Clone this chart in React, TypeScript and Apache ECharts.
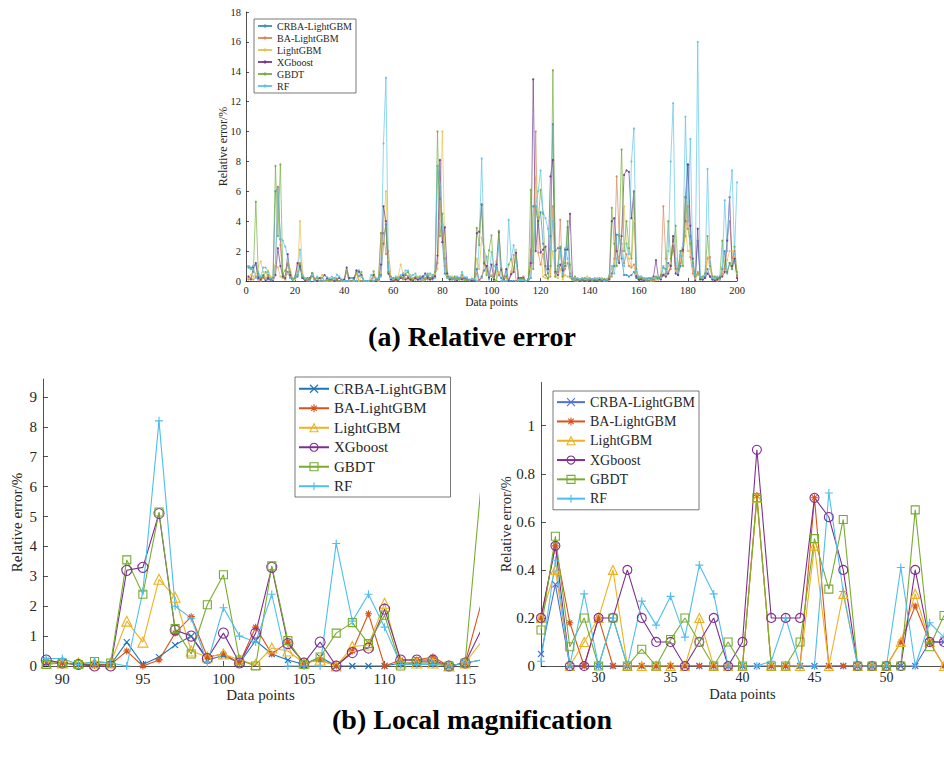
import React, { useEffect, useRef } from "react";
import * as echarts from "echarts";

const FONT = "'Liberation Serif', 'Times New Roman', Times, serif";
const AX = "#262626";

const NAMES = ["CRBA-LightGBM", "BA-LightGBM", "LightGBM", "XGboost", "GBDT", "RF"];
const TOP_COLORS = ["#3a8cbd", "#d9855a", "#e6c24a", "#71398a", "#72ad3c", "#5cc2ea"];
const LEFT_COLORS = ["#1f74b8", "#d95319", "#edb120", "#7e2f8e", "#77ac30", "#4dbeee"];
const RIGHT_COLORS = ["#4f6fd3", "#d95319", "#edb120", "#7e2f8e", "#77ac30", "#4dbeee"];

// tick labels
const xTicksTop = [0, 20, 40, 60, 80, 100, 120, 140, 160, 180, 200];
const yTicksTop = [0, 2, 4, 6, 8, 10, 12, 14, 16, 18];
const xTicksL = [90, 95, 100, 105, 110, 115];
const yTicksL = [0, 1, 2, 3, 4, 5, 6, 7, 8, 9];
const xTicksR = [30, 35, 40, 45, 50];
const yTicksR = [0, 0.2, 0.4, 0.6, 0.8, 1];

// ---------- (b) right panel: data points 26..54 ----------
const xRight = [26, 27, 28, 29, 30, 31, 32, 33, 34, 35, 36, 37, 38, 39, 40, 41, 42, 43, 44, 45, 46, 47, 48, 49, 50, 51, 52, 53, 54];
const crbaR = [0.05, 0.34, 0, 0, 0, 0, 0, 0, 0, 0, 0, 0, 0, 0, 0, 0, 0, 0, 0, 0, 0, 0, 0, 0, 0, 0, 0, 0.1, 0.1];
const baR = [0.2, 0.5, 0.18, 0, 0.2, 0, 0, 0, 0, 0, 0, 0, 0, 0, 0, 0.71, 0, 0, 0, 0.7, 0, 0, 0, 0, 0, 0.1, 0.25, 0.1, 0];
const lgbR = [0.2, 0.4, 0, 0.1, 0.2, 0.4, 0, 0, 0, 0, 0, 0.2, 0, 0, 0, 0.7, 0, 0, 0, 0.5, 0, 0.3, 0, 0, 0, 0.1, 0.3, 0.1, 0];
const xgbR = [0.2, 0.5, 0, 0, 0.2, 0.2, 0.4, 0.2, 0.1, 0.1, 0, 0.1, 0.2, 0, 0.1, 0.9, 0.2, 0.2, 0.2, 0.7, 0.62, 0.4, 0, 0, 0, 0, 0.4, 0.1, 0.1];
const gbdtR = [0.15, 0.54, 0.08, 0.2, 0, 0.2, 0, 0.07, 0, 0.11, 0.2, 0.1, 0, 0.1, 0, 0.7, 0, 0, 0.1, 0.53, 0.32, 0.61, 0, 0, 0, 0, 0.65, 0.08, 0.21];
const rfR = [0.02, 0.44, 0, 0.3, 0, 0.2, 0, 0.27, 0.17, 0.29, 0.12, 0.42, 0.3, 0, 0, 0, 0.02, 0.2, 0, 0, 0.72, 0.31, 0, 0, 0, 0.41, 0, 0.18, 0.12];

// ---------- (b) left panel: data points 89..116 ----------
const xLeft = [89, 90, 91, 92, 93, 94, 95, 96, 97, 98, 99, 100, 101, 102, 103, 104, 105, 106, 107, 108, 109, 110, 111, 112, 113, 114, 115, 116];
const crbaL = [0.1, 0.1, 0.05, 0.05, 0.05, 0.8, 0.05, 0.3, 0.7, 1.0, 0.2, 0.35, 0.1, 0.85, 0.4, 0.2, 0.05, 0.3, 0, 0, 0, 0, 0.1, 0.1, 0.1, 0, 0.1, 0.2];
const baL = [0.2, 0.1, 0.05, 0.02, 0.05, 0.5, 0, 0.2, 1.1, 1.65, 0.3, 0.4, 0.1, 1.3, 0.4, 0.8, 0.1, 0.2, 0, 0.5, 1.75, 0, 0.2, 0.2, 0.3, 0, 0.1, 2.1];
const lgbL = [0.1, 0.1, 0.1, 0.1, 0.1, 1.5, 0.8, 2.9, 2.3, 0.5, 0.3, 0.4, 0.2, 0.05, 0.6, 0.5, 0.1, 0.2, 0, 0.65, 0.7, 2.1, 0.1, 0.1, 0.1, 0, 0.1, 0.8];
const xgbL = [0.2, 0.1, 0.05, 0, 0, 3.2, 3.3, 5.1, 1.2, 1.0, 0.25, 1.1, 0.1, 1.1, 3.3, 0.75, 0.1, 0.8, 0, 0.45, 0.6, 1.9, 0.2, 0.2, 0.2, 0, 0.1, 1.2];
const gbdtL = [0.05, 0.1, 0.05, 0.15, 0.1, 3.55, 2.4, 5.15, 1.25, 0.4, 2.05, 3.05, 0.2, 0, 3.35, 0.85, 0.05, 0.3, 1.1, 1.45, 0.75, 1.7, 0, 0.15, 0.15, 0, 0.1, 6.1];
const rfL = [0.25, 0.25, 0.05, 0.15, 0.1, 0, 2.5, 8.2, 2.0, 1.6, 0.1, 1.95, 1.0, 0.8, 2.4, 0, 0, 0, 4.1, 1.5, 2.4, 1.3, 0.05, 0.05, 0.05, 0, 0.1, 0.2];

// ---------- (a) remaining stretches: points 1..25, 55..88, 117..200 ----------
const crbaA = [0.9, 0.8, 1.0, 1.1, 0.3, 0.2, 0.4, 0.2, 0.1, 0.1, 0.1, 6.0, 6.3, 2.8, 0.4, 0.3, 0.6, 0.2, 0.1, 0.2, 0.3, 0.9, 0.2, 0.1, 0.1];
const baA = [0.1, 0.2, 0.1, 0.3, 0.1, 0.0, 0.2, 0.1, 0.3, 0.1, 0.2, 1.0, 6.3, 2.4, 0.2, 0.1, 1.2, 0.3, 0.1, 0.2, 1.1, 1.2, 0.3, 0.1, 0.0];
const lgbA = [0.2, 0.4, 0.3, 0.5, 1.0, 1.3, 0.6, 0.2, 0.7, 0.3, 0.1, 1.1, 0.9, 0.3, 0.2, 0.3, 0.5, 0.8, 0.2, 0.1, 0.5, 4.0, 0.6, 0.1, 0.2];
const xgbA = [0.3, 0.1, 0.9, 1.2, 0.2, 0.1, 0.3, 0.0, 0.2, 0.1, 0.0, 0.4, 2.2, 1.0, 0.3, 0.2, 1.8, 0.4, 0.1, 0.3, 1.2, 1.0, 0.2, 0.0, 0.1];
const gbdtA = [1.0, 0.9, 0.6, 5.3, 0.5, 0.2, 0.3, 0.6, 0.4, 0.1, 0.2, 7.7, 3.0, 7.8, 0.5, 0.7, 1.1, 0.6, 0.1, 0.2, 0.4, 1.1, 0.3, 0.1, 0.2];
const rfA = [1.0, 0.8, 1.0, 0.2, 0.6, 0.3, 0.9, 0.9, 0.6, 0.2, 0.1, 0.9, 6.1, 2.8, 2.7, 2.3, 1.5, 0.2, 0.1, 0.3, 0.6, 2.1, 0.4, 0.2, 0.1];

const crbaB = [0.4, 2.5, 3.8, 0.6, 0.1, 0.2, 0.1, 0.2, 0.3, 0.2, 0.4, 0.3, 0.1, 0.2, 0.1, 0.1, 0.1, 0.2, 0.1, 0.3, 0.2, 0.1, 0.3, 7.7, 5.5, 2.6, 0.5, 0.2, 0.1, 0.2, 0.1, 0.1, 0.2, 0.3];
const baB = [3.2, 3.2, 1.8, 2.0, 0.3, 0.1, 0.0, 0.1, 0.2, 0.1, 0.1, 0.3, 0.0, 0.1, 0.2, 0.1, 0.1, 0.0, 0.2, 0.1, 0.1, 0.2, 0.4, 1.2, 6.0, 3.0, 1.0, 0.3, 0.2, 0.1, 0.2, 0.1, 0.1, 0.2];
const lgbB = [0.6, 3.5, 6.0, 1.4, 0.2, 0.1, 0.2, 0.3, 1.1, 0.5, 0.2, 0.1, 0.4, 0.2, 0.1, 0.3, 0.2, 0.3, 0.1, 0.2, 0.4, 0.3, 0.5, 0.8, 4.0, 10.0, 2.0, 0.4, 0.2, 0.3, 0.1, 0.2, 0.1, 0.3];
const xgbB = [1.1, 5.0, 4.0, 0.5, 0.1, 0.0, 0.1, 0.0, 0.2, 0.4, 0.1, 0.2, 0.1, 0.0, 0.2, 0.1, 0.2, 0.3, 0.5, 0.2, 0.1, 0.2, 0.3, 1.7, 8.1, 2.6, 3.6, 0.5, 0.1, 0.2, 0.1, 0.0, 0.2, 0.1];
const gbdtB = [3.2, 3.2, 3.5, 0.6, 0.2, 0.1, 0.2, 0.1, 0.3, 0.2, 0.5, 0.6, 0.2, 0.1, 0.3, 0.2, 0.3, 0.2, 0.1, 0.4, 0.2, 0.3, 0.6, 10.0, 3.0, 4.5, 1.5, 0.3, 0.2, 0.1, 0.3, 0.2, 0.1, 0.4];
const rfB = [0.3, 9.2, 13.6, 0.8, 0.2, 0.1, 0.3, 0.2, 0.4, 0.5, 0.7, 0.7, 0.3, 0.4, 0.5, 0.2, 0.3, 0.1, 0.4, 0.5, 0.5, 0.4, 0.2, 7.7, 6.5, 3.8, 0.8, 0.2, 0.3, 0.2, 0.1, 0.3, 0.2, 0.6];

const crbaC = [
  5.0, 5.0, 3.8, 4.6, 2.5, 1.0, 0.5, 3.0, 10.5, 2.0,
  2.2, 2.2, 0.8, 1.0, 3.6, 0.3, 0.1, 0.1, 0.0, 0.1,
  0.1, 0.0, 0.1, 0.1, 0.0, 0.1, 0.1, 0.1, 0.0, 0.1, 0.1, 0.2,
  0.5, 1.0, 3.1, 3.1, 1.5, 0.4, 0.4, 0.3, 0.4, 0.6, 0.2, 0.1,
  0.1, 0.2, 0.1, 0.0, 0.1, 0.1, 0.2, 0.1, 0.3, 0.4,
  0.5, 1.2, 1.0, 3.0, 0.8, 0.4, 1.0, 2.0, 4.0, 7.8,
  3.0, 1.0, 0.3, 2.7, 0.2, 0.1, 0.3, 0.8, 0.3, 0.1,
  0.1, 0.2, 0.1, 0.8, 2.0, 0.6, 1.2, 0.8, 1.4, 0.4,
];
const baC = [
  1.2, 10.0, 1.9, 1.1, 1.8, 0.4, 0.2, 0.3, 5.0, 0.5,
  0.6, 4.1, 0.3, 0.8, 1.2, 0.5, 0.1, 0.0, 0.1, 0.0,
  0.0, 0.1, 0.0, 0.1, 0.1, 0.0, 0.1, 0.0, 0.1, 0.0, 0.1, 0.2,
  0.3, 1.5, 7.0, 3.0, 2.5, 1.2, 1.8, 1.0, 0.9, 1.1, 0.3, 0.1,
  0.2, 0.1, 0.0, 0.1, 0.1, 0.0, 0.1, 0.2, 0.3, 5.0,
  1.5, 0.6, 0.8, 2.9, 1.0, 0.5, 1.2, 2.2, 3.0, 5.0,
  1.6, 0.5, 0.1, 0.6, 0.3, 0.1, 0.2, 1.5, 1.6, 0.2,
  0.1, 0.0, 0.2, 0.5, 0.8, 2.8, 4.0, 1.5, 2.0, 0.3,
];
const lgbC = [
  4.5, 7.0, 4.4, 2.2, 0.3, 0.2, 0.1, 0.5, 2.0, 0.3,
  0.2, 0.8, 0.1, 0.4, 0.3, 0.2, 0.1, 0.2, 0.0, 0.1,
  0.2, 0.1, 0.3, 0.2, 0.1, 0.1, 0.2, 0.1, 0.2, 0.1, 0.1, 0.3,
  0.8, 1.2, 2.0, 1.5, 3.0, 5.0, 2.5, 1.5, 1.0, 4.0, 0.5, 0.2,
  0.3, 0.1, 0.2, 0.1, 0.0, 0.2, 0.1, 0.1, 0.2, 0.5,
  0.3, 1.0, 1.2, 2.5, 0.7, 0.6, 1.5, 1.8, 3.5, 2.0,
  2.0, 0.8, 0.2, 0.4, 0.3, 0.2, 0.4, 1.6, 0.8, 0.1,
  0.2, 0.1, 0.1, 0.6, 1.0, 1.4, 2.0, 2.0, 1.6, 0.5,
];
const xgbC = [
  13.5, 2.0, 4.0, 1.9, 2.1, 2.3, 0.8, 7.0, 8.1, 0.6,
  0.4, 1.1, 0.7, 2.1, 2.1, 4.5, 0.2, 0.1, 0.1, 0.0,
  0.1, 0.0, 0.1, 0.0, 0.1, 0.0, 0.0, 0.1, 0.0, 0.1, 0.0, 0.1,
  4.0, 4.2, 2.0, 1.2, 3.0, 7.1, 7.4, 7.3, 4.2, 6.0, 0.3, 0.1,
  0.1, 0.0, 0.1, 0.2, 0.1, 0.3, 1.4, 0.2, 0.1, 0.4,
  0.3, 0.5, 1.0, 3.0, 0.5, 0.4, 2.0, 2.1, 5.6, 7.8,
  3.7, 1.5, 0.0, 3.5, 0.1, 0.1, 0.2, 0.5, 0.3, 0.1,
  0.0, 0.1, 0.2, 0.3, 0.6, 2.7, 5.6, 1.0, 1.5, 0.2,
];
const gbdtC = [
  0.8, 5.0, 3.9, 6.1, 4.5, 0.4, 0.2, 1.0, 14.1, 0.3,
  1.0, 2.3, 0.3, 1.2, 4.0, 1.1, 0.1, 0.3, 0.1, 0.1,
  0.1, 0.2, 0.1, 0.1, 0.0, 0.1, 0.1, 0.0, 0.1, 0.1, 0.0, 0.3,
  4.9, 2.5, 1.0, 3.0, 8.8, 2.0, 4.0, 2.2, 1.5, 6.0, 0.8, 0.2,
  0.2, 0.1, 0.1, 0.0, 0.2, 0.1, 0.3, 0.2, 0.4, 0.9,
  0.8, 4.0, 1.5, 2.0, 3.7, 0.8, 2.0, 1.0, 5.6, 3.5,
  2.5, 1.2, 0.3, 0.5, 0.2, 0.3, 0.5, 3.0, 1.0, 0.3,
  0.3, 0.2, 0.3, 2.7, 1.0, 0.5, 1.2, 0.8, 2.3, 0.6,
];
const rfC = [
  2.0, 5.0, 6.0, 7.4, 4.6, 4.2, 3.5, 2.1, 4.0, 0.5,
  0.8, 1.9, 0.5, 2.2, 1.5, 0.4, 0.2, 0.1, 0.2, 0.1,
  0.2, 0.1, 0.1, 0.2, 0.1, 0.2, 0.1, 0.2, 0.1, 0.0, 0.1, 0.4,
  1.0, 0.5, 1.5, 3.1, 2.0, 1.0, 2.5, 1.8, 8.0, 10.2, 0.7, 0.3,
  0.3, 0.2, 0.1, 0.2, 0.1, 0.2, 0.2, 0.3, 0.2, 1.0,
  0.6, 2.0, 8.0, 11.9, 1.5, 0.6, 1.8, 2.5, 11.0, 4.0,
  9.5, 1.0, 0.4, 16.0, 0.3, 0.2, 0.4, 7.5, 1.2, 0.2,
  0.2, 0.3, 0.1, 0.9, 5.4, 2.0, 5.6, 7.4, 1.8, 6.6,
];

// full 200-point series for panel (a), data points 1..200
const topSeries = [
  [...crbaA, ...crbaR, ...crbaB, ...crbaL, ...crbaC],
  [...baA, ...baR, ...baB, ...baL, ...baC],
  [...lgbA, ...lgbR, ...lgbB, ...lgbL, ...lgbC],
  [...xgbA, ...xgbR, ...xgbB, ...xgbL, ...xgbC],
  [...gbdtA, ...gbdtR, ...gbdtB, ...gbdtL, ...gbdtC],
  [...rfA, ...rfR, ...rfB, ...rfL, ...rfC],
];
const leftSeries = [crbaL, baL, lgbL, xgbL, gbdtL, rfL];
const rightSeries = [crbaR, baR, lgbR, xgbR, gbdtR, rfR];

const SYM_X = "path://M0,0L10,10M10,0L0,10";
const SYM_STAR = "path://M5,0L5,10M0,5L10,5M1.6,1.6L8.4,8.4M8.4,1.6L1.6,8.4";
const SYM_PLUS = "path://M5,0L5,10M0,5L10,5";
const MARKERS = [SYM_X, SYM_STAR, "triangle", "circle", "rect", SYM_PLUS];
const MSIZE_L = [6, 7, 10, 10, 8, 8];
const MSIZE_R = [6, 7, 9, 9, 8, 8];

function axisCommon(fontSize: number, tickLen: number, margin: number) {
  return {
    axisLine: { show: true, onZero: false, lineStyle: { color: AX, width: 0.8 } },
    axisTick: { show: true, inside: true, length: tickLen, lineStyle: { color: AX, width: 0.8 } },
    axisLabel: { color: AX, fontFamily: FONT, fontSize, margin },
    splitLine: { show: false },
    nameMoveOverlap: false,
    nameTextStyle: { color: AX, fontFamily: FONT },
  };
}

export default function App() {
  const ref = useRef<HTMLDivElement>(null);

  useEffect(() => {
    document.body.style.margin = "0";
    if (!ref.current) return;
    const chart = echarts.init(ref.current, undefined, { renderer: "svg" });

    const series: any[] = [];
    NAMES.forEach((n, k) => {
      series.push({
        name: n,
        type: "line",
        xAxisIndex: 0,
        yAxisIndex: 0,
        data: topSeries[k].map((v, i) => [i + 1, v]),
        symbol: "circle",
        symbolSize: 2.2,
        itemStyle: { color: TOP_COLORS[k], opacity: 0.9 },
        lineStyle: { color: TOP_COLORS[k], width: 0.75, opacity: 0.9 },
        emphasis: { disabled: true },
      });
    });
    NAMES.forEach((n, k) => {
      series.push({
        name: n + "|L",
        type: "line",
        xAxisIndex: 1,
        yAxisIndex: 1,
        data: xLeft.map((x, i) => [x, leftSeries[k][i]]),
        symbol: MARKERS[k],
        symbolSize: MSIZE_L[k],
        itemStyle: { color: "rgba(0,0,0,0)", borderColor: LEFT_COLORS[k], borderWidth: 1.1 },
        lineStyle: { color: LEFT_COLORS[k], width: 1.1 },
        emphasis: { disabled: true },
      });
    });
    NAMES.forEach((n, k) => {
      series.push({
        name: n + "|R",
        type: "line",
        xAxisIndex: 2,
        yAxisIndex: 2,
        data: xRight.map((x, i) => [x, rightSeries[k][i]]),
        symbol: MARKERS[k],
        symbolSize: MSIZE_R[k],
        itemStyle: { color: "rgba(0,0,0,0)", borderColor: RIGHT_COLORS[k], borderWidth: 1.1 },
        lineStyle: { color: RIGHT_COLORS[k], width: 1.1 },
        emphasis: { disabled: true },
      });
    });

    const legendBase = {
      orient: "vertical",
      itemGap: 0,
      backgroundColor: "#fff",
      borderColor: "#555",
      borderWidth: 0.8,
      borderRadius: 0,
      selectedMode: false,
      formatter: (name: string) => name.split("|")[0],
    };

    const option: any = {
      animation: false,
      backgroundColor: "#fff",
      textStyle: { fontFamily: FONT },
      grid: [
        { left: 246, top: 12, width: 491, height: 269, containLabel: false },
        { left: 43, top: 379, width: 435, height: 287, containLabel: false },
        { left: 541, top: 382.5, width: 403, height: 283.5, containLabel: false },
      ],
      xAxis: [
        {
          ...axisCommon(10.5, 3, 4),
          type: "value", gridIndex: 0, min: 0, max: 200,
          axisLabel: { color: AX, fontFamily: FONT, fontSize: 10.5, margin: 4, customValues: xTicksTop },
          axisTick: { show: true, inside: true, length: 3, customValues: xTicksTop, lineStyle: { color: AX, width: 0.8 } },
          name: "Data points", nameLocation: "middle", nameGap: 15,
          nameTextStyle: { color: AX, fontFamily: FONT, fontSize: 11.5 },
        },
        {
          ...axisCommon(15, 5, 5),
          type: "value", gridIndex: 1, min: 88.8, max: 115.8,
          axisLabel: { color: AX, fontFamily: FONT, fontSize: 15, margin: 5, customValues: xTicksL },
          axisTick: { show: true, inside: true, length: 5, customValues: xTicksL, lineStyle: { color: AX, width: 0.8 } },
          name: "Data points", nameLocation: "middle", nameGap: 21,
          nameTextStyle: { color: AX, fontFamily: FONT, fontSize: 15 },
        },
        {
          ...axisCommon(14, 5, 4),
          type: "value", gridIndex: 2, min: 26, max: 54,
          axisLabel: { color: AX, fontFamily: FONT, fontSize: 14, margin: 4, customValues: xTicksR },
          axisTick: { show: true, inside: true, length: 5, customValues: xTicksR, lineStyle: { color: AX, width: 0.8 } },
          name: "Data points", nameLocation: "middle", nameGap: 20.5,
          nameTextStyle: { color: AX, fontFamily: FONT, fontSize: 14.5 },
        },
      ],
      yAxis: [
        {
          ...axisCommon(10.5, 3, 5),
          type: "value", gridIndex: 0, min: 0, max: 18,
          axisLabel: { color: AX, fontFamily: FONT, fontSize: 10.5, margin: 5, customValues: yTicksTop },
          axisTick: { show: true, inside: true, length: 3, customValues: yTicksTop, lineStyle: { color: AX, width: 0.8 } },
          name: "Relative error/%", nameLocation: "middle", nameGap: 17,
          nameTextStyle: { color: AX, fontFamily: FONT, fontSize: 12 },
        },
        {
          ...axisCommon(15, 5, 6),
          type: "value", gridIndex: 1, min: 0, max: 9.6,
          axisLabel: { color: AX, fontFamily: FONT, fontSize: 15, margin: 6, customValues: yTicksL },
          axisTick: { show: true, inside: true, length: 5, customValues: yTicksL, lineStyle: { color: AX, width: 0.8 } },
          name: "Relative error/%", nameLocation: "middle", nameGap: 18.5,
          nameTextStyle: { color: AX, fontFamily: FONT, fontSize: 15 },
        },
        {
          ...axisCommon(15, 5, 6),
          type: "value", gridIndex: 2, min: 0, max: 1.18,
          axisLabel: { color: AX, fontFamily: FONT, fontSize: 15, margin: 6, customValues: yTicksR },
          axisTick: { show: true, inside: true, length: 5, customValues: yTicksR, lineStyle: { color: AX, width: 0.8 } },
          name: "Relative error/%", nameLocation: "middle", nameGap: 28,
          nameTextStyle: { color: AX, fontFamily: FONT, fontSize: 14.5 },
        },
      ],
      legend: [
        {
          ...legendBase,
          left: 254, top: 19,
          padding: [1, 4, 1, 3],
          itemWidth: 14, itemHeight: 4,
          data: NAMES,
          itemStyle: { borderWidth: 0 },
          textStyle: { color: AX, fontFamily: FONT, fontSize: 10, lineHeight: 12 },
        },
        {
          ...legendBase,
          left: 295, top: 377,
          padding: [2, 4, 1, 3],
          itemWidth: 30, itemHeight: 10,
          data: NAMES.map((n) => n + "|L"),
          itemStyle: { borderWidth: 1.1 },
          textStyle: { color: AX, fontFamily: FONT, fontSize: 15, lineHeight: 19.5 },
        },
        {
          ...legendBase,
          left: 553, top: 391,
          padding: [1.5, 4, 1.5, 3],
          itemWidth: 28, itemHeight: 10,
          data: NAMES.map((n) => n + "|R"),
          itemStyle: { borderWidth: 1.1 },
          textStyle: { color: AX, fontFamily: FONT, fontSize: 14, lineHeight: 19.3 },
        },
      ],
      graphic: [
        {
          type: "text", x: 472, y: 336,
          style: { text: "(a) Relative error", fill: "#000", font: `bold 28px ${FONT}`, textAlign: "center", textVerticalAlign: "middle" },
        },
        {
          type: "text", x: 472, y: 719,
          style: { text: "(b) Local magnification", fill: "#000", font: `bold 28px ${FONT}`, textAlign: "center", textVerticalAlign: "middle" },
        },
      ],
      series,
    };

    chart.setOption(option);
    return () => chart.dispose();
  }, []);

  return <div ref={ref} style={{ position: "absolute", left: 0, top: 0, width: 944, height: 758 }} />;
}
